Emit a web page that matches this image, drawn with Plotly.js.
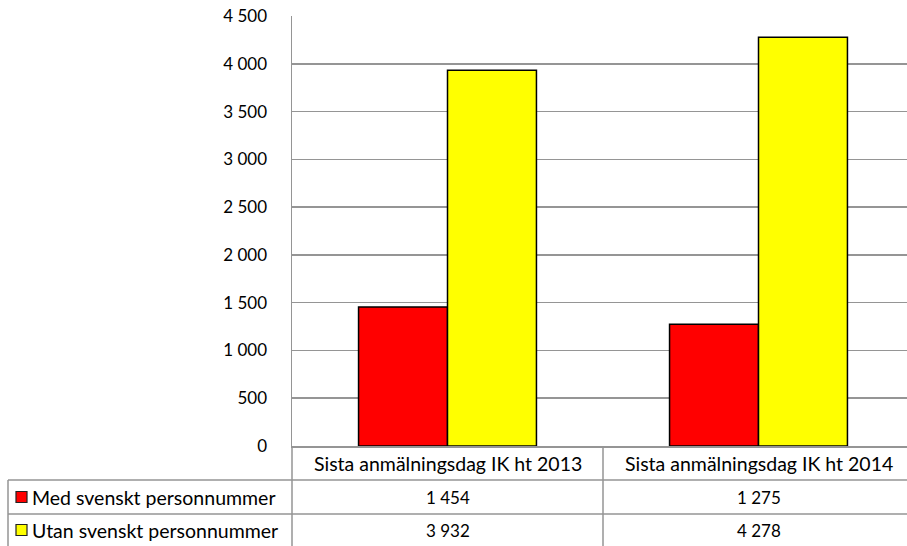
<!DOCTYPE html>
<html><head><meta charset="utf-8">
<script src="https://cdn.plot.ly/plotly-3.0.1.min.js"></script>
<style>html,body{margin:0;padding:0;background:#fff}#chart{width:907px;height:546px}</style>
</head><body><div id="chart"></div>
<script>
const categories = ["Sista anmälningsdag IK ht 2013", "Sista anmälningsdag IK ht 2014"];
const seriesNames = ["Med svenskt personnummer", "Utan svenskt personnummer"];
const medValues = [1454, 1275];
const utanValues = [3932, 4278];
const seriesColors = ["#FF0000", "#FFFF00"];
const yTickVals = [0, 500, 1000, 1500, 2000, 2500, 3000, 3500, 4000, 4500];

const W = 907, H = 546;
const L = 292, T = 16, B = 100;   // plot area 292..907 x 16..446
const plotW = W - L, plotH = H - T - B;
const FONT = "Lato, 'Open Sans', sans-serif";
const GRID = "#959595";
const TXT = 19.5, NUM = 17;

function px2paperX(px){ return (px - L) / plotW; }
function px2paperY(py){ return (H - B - py) / plotH; }
function fmt(v){ return String(v).replace(/\B(?=(\d{3})+(?!\d))/g, " "); }

const allSeries = [medValues, utanValues];
const traces = allSeries.map((vals, i) => ({
  type: "bar",
  name: seriesNames[i],
  x: categories,
  y: vals,
  marker: {color: seriesColors[i], line: {color: "#000", width: 1.5}},
  hoverinfo: "skip"
}));

const shapes = [];
const annotations = [];
const rowTop = [480, 514];
const rowMid = [497, 530];
const lineStyle = {color: GRID, width: 1.5};

// horizontal table lines
rowTop.forEach(y => shapes.push({type: "line", xref: "paper", yref: "paper",
  x0: px2paperX(8), x1: 1.02, y0: px2paperY(y), y1: px2paperY(y), line: lineStyle}));
// vertical table lines
shapes.push({type: "line", xref: "paper", yref: "paper", x0: px2paperX(8), x1: px2paperX(8),
  y0: px2paperY(480), y1: px2paperY(560), line: lineStyle});
shapes.push({type: "line", xref: "paper", yref: "paper", x0: 0, x1: 0,
  y0: 0, y1: px2paperY(560), line: lineStyle});
for (let k = 0; k < categories.length - 1; k++) {
  shapes.push({type: "line", xref: "x", yref: "paper", x0: k + 0.5, x1: k + 0.5,
    y0: 0, y1: px2paperY(560), line: lineStyle});
}

// header labels
categories.forEach((c, k) => annotations.push({xref: "x", yref: "paper", x: k,
  y: px2paperY(463), text: c, showarrow: false, xanchor: "center", yanchor: "middle",
  font: {family: FONT, size: TXT, color: "#000"}}));

// data rows
allSeries.forEach((vals, i) => {
  shapes.push({type: "rect", xref: "paper", yref: "paper",
    x0: px2paperX(16), x1: px2paperX(27), y0: px2paperY(rowMid[i] - 5.5), y1: px2paperY(rowMid[i] + 5.5),
    fillcolor: seriesColors[i], line: {color: "#222", width: 1.2}});
  annotations.push({xref: "paper", yref: "paper", x: px2paperX(30), y: px2paperY(rowMid[i]),
    text: seriesNames[i], showarrow: false, xanchor: "left", yanchor: "middle",
    font: {family: FONT, size: TXT, color: "#000"}});
  vals.forEach((v, k) => annotations.push({xref: "x", yref: "paper", x: k, y: px2paperY(rowMid[i]),
    text: fmt(v), showarrow: false, xanchor: "center", yanchor: "middle",
    font: {family: FONT, size: NUM, color: "#000"}}));
});

const layout = {
  width: W, height: H,
  margin: {l: L, r: 0, t: T, b: B, pad: 0},
  paper_bgcolor: "#fff", plot_bgcolor: "#fff",
  showlegend: false,
  barmode: "group",
  bargap: 0.428,
  bargroupgap: 0,
  separators: ", ",
  xaxis: {type: "category", range: [-0.5, 1.5 - 7/311], showticklabels: false,
    showgrid: false, zeroline: false, showline: true, linecolor: GRID, linewidth: 1.5, ticks: "", fixedrange: true},
  yaxis: {range: [0, 4500], tickvals: yTickVals, ticktext: yTickVals.map(fmt),
    showgrid: true, gridcolor: GRID, gridwidth: 1.5, zeroline: false,
    showline: true, linecolor: GRID, linewidth: 1.5, ticks: "outside", ticklen: 20, tickcolor: "rgba(0,0,0,0)",
    tickfont: {family: FONT, size: NUM, color: "#000"}, fixedrange: true},
  shapes: shapes,
  annotations: annotations
};

Plotly.newPlot("chart", traces, layout, {staticPlot: true, displayModeBar: false});
</script>
</body></html>
